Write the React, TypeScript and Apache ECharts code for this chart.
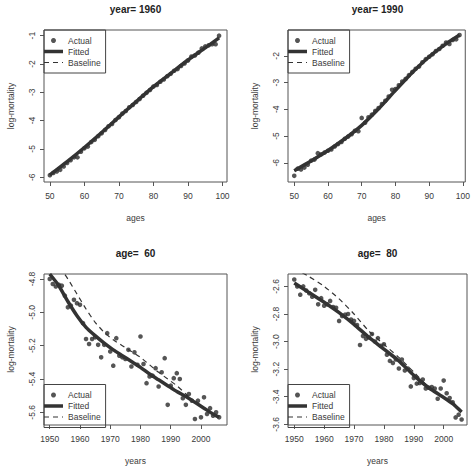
import { useEffect, useRef } from 'react';
import * as echarts from 'echarts';

// ---------- data ----------
const ages = [50, 51, 52, 53, 54, 55, 56, 57, 58, 59, 60, 61, 62, 63, 64, 65, 66, 67, 68, 69, 70, 71, 72, 73, 74, 75, 76, 77, 78, 79, 80, 81, 82, 83, 84, 85, 86, 87, 88, 89, 90, 91, 92, 93, 94, 95, 96, 97, 98, 99];
const actual1960 = [-5.93, -5.85, -5.8, -5.74, -5.62, -5.5, -5.4, -5.3, -5.3, -5.1, -4.98, -4.92, -4.76, -4.68, -4.55, -4.45, -4.33, -4.2, -4.12, -3.98, -3.88, -3.75, -3.66, -3.53, -3.45, -3.34, -3.24, -3.12, -3.02, -2.92, -2.8, -2.74, -2.63, -2.55, -2.43, -2.35, -2.24, -2.18, -2.07, -1.98, -1.88, -1.74, -1.7, -1.6, -1.45, -1.38, -1.34, -1.3, -1.3, -1.0];
const fitAges = [50, 55, 60, 65, 70, 75, 80, 85, 90, 95, 99];
const fitted1960 = [-5.92, -5.45, -4.95, -4.42, -3.87, -3.33, -2.8, -2.33, -1.86, -1.43, -1.08];
const baseline1960 = [-5.92, -5.45, -4.95, -4.42, -3.87, -3.33, -2.8, -2.33, -1.86, -1.43, -1.08];

const actual1990 = [-6.49, -6.22, -6.25, -6.18, -6.07, -5.92, -5.88, -5.64, -5.68, -5.62, -5.55, -5.5, -5.39, -5.3, -5.22, -5.1, -5.02, -4.93, -4.8, -4.82, -4.32, -4.5, -4.3, -4.2, -4.06, -3.95, -3.8, -3.68, -3.52, -3.27, -3.24, -3.1, -2.96, -2.86, -2.72, -2.6, -2.48, -2.4, -2.24, -2.12, -2.03, -1.94, -1.82, -1.74, -1.62, -1.5, -1.55, -1.4, -1.38, -1.22];
const fitted1990 = [-6.3, -5.93, -5.54, -5.1, -4.6, -3.98, -3.29, -2.62, -2.03, -1.55, -1.22];
const baseline1990 = [-6.3, -5.93, -5.54, -5.1, -4.6, -3.98, -3.29, -2.62, -2.03, -1.55, -1.22];

const years = [1950, 1951, 1952, 1953, 1954, 1955, 1956, 1957, 1958, 1959, 1960, 1961, 1962, 1963, 1964, 1965, 1966, 1967, 1968, 1969, 1970, 1971, 1972, 1973, 1974, 1975, 1976, 1977, 1978, 1979, 1980, 1981, 1982, 1983, 1984, 1985, 1986, 1987, 1988, 1989, 1990, 1991, 1992, 1993, 1994, 1995, 1996, 1997, 1998, 1999, 2000, 2001, 2002, 2003, 2004, 2005, 2006];
const actualAge60 = [-4.8, -4.83, -4.845, -4.835, -4.84, -4.9, -4.97, -4.96, -4.925, -4.945, -4.955, -5.065, -5.16, -5.19, -5.16, -5.15, -5.195, -5.27, -5.195, -5.125, -5.235, -5.32, -5.155, -5.26, -5.27, -5.28, -5.225, -5.325, -5.24, -5.315, -5.145, -5.31, -5.425, -5.385, -5.38, -5.335, -5.445, -5.36, -5.275, -5.555, -5.44, -5.395, -5.365, -5.4, -5.515, -5.555, -5.49, -5.53, -5.64, -5.53, -5.63, -5.51, -5.61, -5.575, -5.62, -5.6, -5.63];
const fitYears60 = [1950, 1953, 1956, 1959, 1962, 1965, 1968, 1971, 1974, 1977, 1980, 1983, 1986, 1989, 1992, 1995, 1998, 2001, 2004, 2006];
const fittedAge60 = [-4.77, -4.84, -4.935, -5.02, -5.09, -5.14, -5.185, -5.225, -5.26, -5.295, -5.33, -5.37, -5.405, -5.44, -5.475, -5.505, -5.54, -5.575, -5.61, -5.63];
const baselineAge60 = [-4.64, -4.72, -4.8, -4.89, -4.98, -5.06, -5.12, -5.165, -5.2, -5.235, -5.27, -5.315, -5.36, -5.4, -5.44, -5.49, -5.54, -5.575, -5.61, -5.63];

const actualAge80 = [-2.55, -2.6, -2.66, -2.6, -2.63, -2.65, -2.675, -2.625, -2.73, -2.685, -2.74, -2.73, -2.705, -2.75, -2.755, -2.85, -2.815, -2.805, -2.8, -2.84, -2.85, -2.88, -3.025, -2.96, -2.98, -2.97, -2.945, -3.0, -2.975, -3.03, -3.02, -3.095, -3.14, -3.155, -3.13, -3.195, -3.13, -3.21, -3.195, -3.325, -3.265, -3.305, -3.3, -3.275, -3.34, -3.335, -3.33, -3.34, -3.415, -3.34, -3.283, -3.375, -3.41, -3.44, -3.55, -3.53, -3.565];
const fitYears80 = [1950, 1955, 1960, 1965, 1970, 1975, 1980, 1985, 1990, 1995, 2000, 2003, 2006];
const fittedAge80 = [-2.575, -2.645, -2.715, -2.79, -2.875, -2.97, -3.055, -3.14, -3.245, -3.335, -3.405, -3.45, -3.51];
const baselineAge80 = [-2.47, -2.53, -2.6, -2.69, -2.8, -2.925, -3.02, -3.115, -3.222, -3.33, -3.405, -3.45, -3.51];

const ageTicks = [50, 60, 70, 80, 90, 100];
const yearTicks = [1950, 1960, 1970, 1980, 1990, 2000];
const yTicks1960 = [-6, -5, -4, -3, -2, -1];
const yTicks1990 = [-6, -5, -4, -3, -2];
const yTicksAge60 = [-5.6, -5.4, -5.2, -5.0, -4.8];
const yTicksAge80 = [-3.6, -3.4, -3.2, -3.0, -2.8, -2.6];
const titles = ['year= 1960', 'year= 1990', 'age=  60', 'age=  80'];
const legendNames = ['Actual', 'Fitted', 'Baseline'];

// ---------- styling / layout ----------
const FONT = '"Liberation Sans", Arial, Helvetica, sans-serif';
const TXT = '#3a3a3a';
const INK = '#2a2a2a';
const ICON_SOLID = 'path://M0,0h19v3.5h-19z';
const ICON_DASHED = 'path://M0,0h5v1.2h-5z M9,0h5v1.2h-5z M18,0h1v1.2h-1z';

const panels = [
  { grid: { left: 44, top: 30, width: 183, height: 152 }, x: [48.3, 101.3], y: [-6.17, -0.8], xt: ageTicks, yt: yTicks1960, dec: 0, xName: 'ages',
    ax: ages, ay: actual1960, fx: fitAges, fy: fitted1960, by: baseline1960, legendTop: 30 },
  { grid: { left: 288, top: 30, width: 179, height: 152 }, x: [48.15, 100.7], y: [-6.72, -1.03], xt: ageTicks, yt: yTicks1990, dec: 0, xName: 'ages',
    ax: ages, ay: actual1990, fx: fitAges, fy: fitted1990, by: baseline1990, legendTop: 30 },
  { grid: { left: 44, top: 274, width: 183, height: 151 }, x: [1948.1, 2008.6], y: [-5.676, -4.77], xt: yearTicks, yt: yTicksAge60, dec: 1, xName: 'years',
    ax: years, ay: actualAge60, fx: fitYears60, fy: fittedAge60, by: baselineAge60, legendTop: 384.5 },
  { grid: { left: 288, top: 274, width: 179, height: 151 }, x: [1947.9, 2007.8], y: [-3.605, -2.51], xt: yearTicks, yt: yTicksAge80, dec: 1, xName: 'years',
    ax: years, ay: actualAge80, fx: fitYears80, fy: fittedAge80, by: baselineAge80, legendTop: 384.5 },
];

const zip = (xs: number[], ys: number[]) => xs.map((x, i) => [x, ys[i]]);

function buildOption() {
  const labelStyle = { fontFamily: FONT, fontSize: 8.5, color: TXT };
  return {
    animation: false,
    backgroundColor: '#ffffff',
    title: panels.map((p, i) => ({
      text: titles[i],
      left: p.grid.left + p.grid.width / 2,
      top: i < 2 ? 4 : 248,
      textAlign: 'center',
      padding: 0,
      textStyle: { fontFamily: FONT, fontSize: 10, fontWeight: 'bold', color: '#222' },
    })),
    grid: panels.map((p) => ({ ...p.grid, show: true, borderColor: '#555', borderWidth: 1, backgroundColor: 'transparent' })),
    legend: panels.map((p) => ({
      orient: 'vertical',
      left: p.grid.left,
      top: p.legendTop,
      data: [
        { name: legendNames[0], icon: 'circle', itemStyle: { color: INK } },
        { name: legendNames[1], icon: ICON_SOLID, itemStyle: { color: '#333' } },
        { name: legendNames[2], icon: ICON_DASHED, itemStyle: { color: '#333' } },
      ],
      itemWidth: 19,
      itemHeight: 5,
      itemGap: 2,
      padding: [6, 5, 6, 0],
      borderColor: '#444',
      borderWidth: 1,
      selectedMode: false,
      textStyle: { fontFamily: FONT, fontSize: 8.5, color: TXT, lineHeight: 8 },
    })),
    xAxis: panels.map((p, i) => ({
      type: 'value',
      gridIndex: i,
      min: p.x[0],
      max: p.x[1],
      name: p.xName,
      nameLocation: 'middle',
      nameGap: 31,
      nameTextStyle: labelStyle,
      axisLine: { show: false },
      axisTick: { show: true, length: 4, customValues: p.xt, lineStyle: { color: '#555' } },
      axisLabel: { ...labelStyle, margin: 9, customValues: p.xt, formatter: (v: number) => String(v) },
      splitLine: { show: false },
    })),
    yAxis: panels.map((p, i) => ({
      type: 'value',
      gridIndex: i,
      min: p.y[0],
      max: p.y[1],
      name: 'log-mortality',
      nameLocation: 'middle',
      nameGap: 29,
      nameTextStyle: labelStyle,
      axisLine: { show: false },
      axisTick: { show: true, length: 4, customValues: p.yt, lineStyle: { color: '#555' } },
      axisLabel: { ...labelStyle, margin: 8, rotate: 90, customValues: p.yt, formatter: (v: number) => v.toFixed(p.dec) },
      splitLine: { show: false },
    })),
    series: panels.flatMap((p, i) => [
      {
        type: 'scatter', name: 'Actual', xAxisIndex: i, yAxisIndex: i,
        data: zip(p.ax, p.ay), symbol: 'circle', symbolSize: 4.6,
        itemStyle: { color: INK }, color: INK, clip: true,
      },
      {
        type: 'line', name: 'Fitted', xAxisIndex: i, yAxisIndex: i,
        data: zip(p.fx, p.fy), symbol: 'none', showSymbol: false, smooth: 0.2,
        lineStyle: { width: 3.5, color: '#333' }, itemStyle: { color: '#333' }, color: '#333', clip: true,
      },
      {
        type: 'line', name: 'Baseline', xAxisIndex: i, yAxisIndex: i,
        data: zip(p.fx, p.by), symbol: 'none', showSymbol: false, smooth: 0.2,
        lineStyle: { width: 1.2, type: [5, 4], color: '#333' }, itemStyle: { color: '#333' }, color: '#333', clip: true,
      },
    ]),
  };
}

export default function App() {
  const ref = useRef<HTMLDivElement>(null);
  useEffect(() => {
    if (!ref.current) return;
    const chart = echarts.init(ref.current, undefined, { renderer: 'svg' });
    chart.setOption(buildOption() as any);
    return () => chart.dispose();
  }, []);
  return <div ref={ref} style={{ position: 'absolute', left: 0, top: 0, width: 473, height: 470 }} />;
}
